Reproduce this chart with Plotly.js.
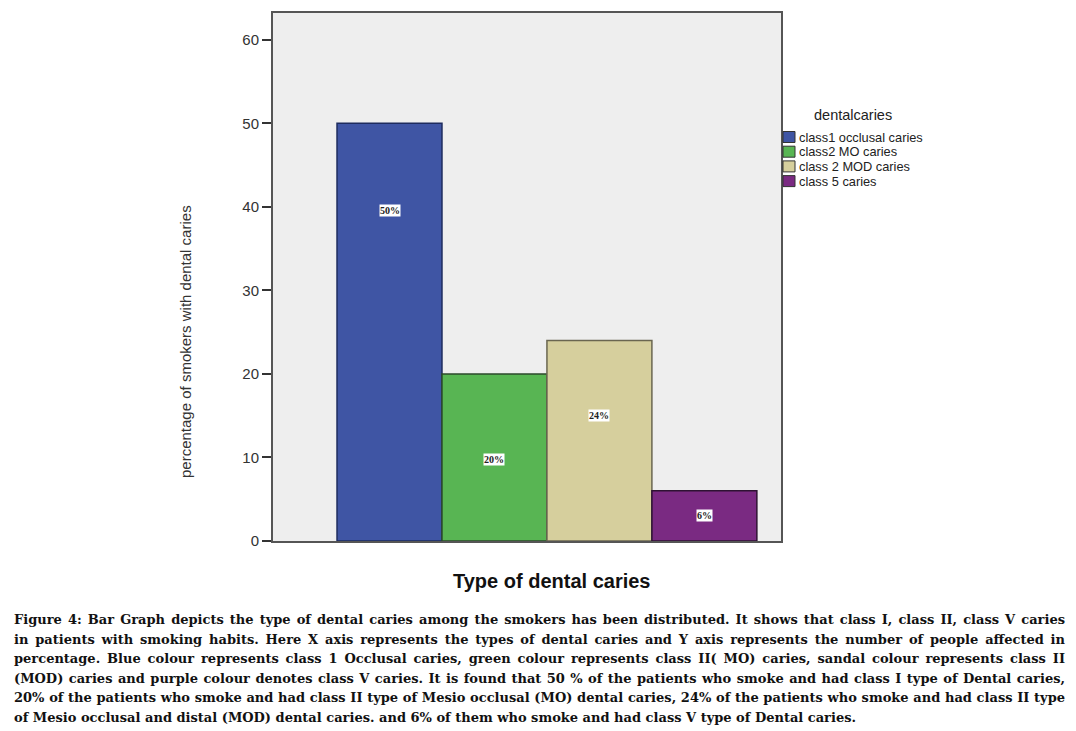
<!DOCTYPE html>
<html>
<head>
<meta charset="utf-8">
<script src="https://cdn.plot.ly/plotly-3.0.1.min.js"></script>
<style>
  html, body { margin: 0; padding: 0; background: #fff; }
  #wrap { position: relative; width: 1076px; height: 731px; overflow: hidden; }
  #chart { position: absolute; left: 0; top: 0; width: 1076px; height: 731px; }
  #caption { position: absolute; left: 14px; top: 610px; width: 1051px;
    font-family: "DejaVu Serif", "Liberation Serif", serif; font-weight: bold;
    font-size: 13px; line-height: 19.5px; color: #111; }
  #caption div { text-align: justify; text-align-last: justify; white-space: nowrap; }
  #caption div.last { text-align-last: left; }
  #measure { position: absolute; visibility: hidden; white-space: nowrap;
    font-family: "DejaVu Serif", "Liberation Serif", serif; font-weight: bold; font-size: 13px; }
</style>
</head>
<body>
<div id="wrap">
  <div id="chart"></div>
  <div id="caption"></div>
</div>
<span id="measure"></span>
<script>
// ---- data ----
const categories = ["class1 occlusal caries", "class2 MO caries", "class 2 MOD caries", "class 5 caries"];
const percentages = [50, 20, 24, 6];
const barLabels = ["50%", "20%", "24%", "6%"];
const labelHeights = [39.6, 9.8, 15.0, 3.1];
const yTicks = [0, 10, 20, 30, 40, 50, 60];
const legendTitle = "dentalcaries";
const xTitle = "Type of dental caries";
const yTitle = "percentage of smokers with dental caries";
const captionLines = [
  "Figure 4: Bar Graph depicts the type of dental caries among the smokers has been distributed. It shows that class I, class II, class V caries",
  "in patients with smoking habits. Here X axis represents the types of dental caries and Y axis represents the number of people affected in",
  "percentage. Blue colour represents class 1 Occlusal caries, green colour represents class II( MO) caries, sandal colour represents class II",
  "(MOD)  caries and purple colour denotes class V caries. It is found that 50 % of the patients who smoke and had class I type of Dental caries,",
  "20% of the patients who smoke and had class II type of Mesio occlusal (MO) dental caries, 24% of the patients who smoke and had class II type",
  "of Mesio occlusal and distal (MOD) dental caries. and 6% of them who smoke and had class V type of Dental caries."
];

// ---- styles ----
const fills = ["#3f55a4", "#58b553", "#d6cf9d", "#7a2a82"];
const edges = ["#1d2b5e", "#2b4a2b", "#6a6650", "#2e1233"];
const sans = "Liberation Sans, Arial, sans-serif";

const traces = categories.map((c, i) => ({
  type: "bar",
  x: [c],
  y: [percentages[i]],
  width: 1,
  name: c,
  marker: { color: fills[i], line: { color: edges[i], width: 1.5 } },
  hoverinfo: "x+y",
  showlegend: false
}));

const annotations = categories.map((c, i) => ({
  x: c, y: labelHeights[i], xref: "x", yref: "y",
  text: barLabels[i], showarrow: false,
  font: { family: "Liberation Serif, serif", size: 10, color: "#222", weight: "bold" },
  bgcolor: "#ffffff", borderpad: 0
}));

const W = 1076, H = 731, L = 273, R = 781, T = 13, B = 541;
const px2paperX = x => (x - L) / (R - L);
const px2paperY = y => (B - y) / (B - T);

// axis titles placed as annotations
annotations.push({
  xref: "paper", yref: "paper", x: px2paperX(551), y: px2paperY(581),
  text: xTitle, showarrow: false, xanchor: "center", yanchor: "middle",
  font: { family: sans, size: 20, color: "#111", weight: "bold" }
});
annotations.push({
  xref: "paper", yref: "paper", x: px2paperX(185), y: px2paperY(342),
  text: yTitle, showarrow: false, xanchor: "center", yanchor: "middle", textangle: -90,
  font: { family: sans, size: 15, color: "#333" }
});

// custom legend (built from categories / fills)
const shapes = [];
const legX0 = 783, legY0 = 137, legStep = 14.7;
annotations.push({
  xref: "paper", yref: "paper", x: px2paperX(853), y: px2paperY(115),
  text: legendTitle, showarrow: false, xanchor: "center", yanchor: "middle",
  font: { family: sans, size: 14.5, color: "#222" }
});
categories.forEach((c, i) => {
  const cy = legY0 + i * legStep;
  shapes.push({
    type: "rect", xref: "paper", yref: "paper",
    x0: px2paperX(legX0), x1: px2paperX(legX0 + 12),
    y0: px2paperY(cy - 5.5), y1: px2paperY(cy + 5.5),
    fillcolor: fills[i], line: { color: "#333", width: 1 }
  });
  annotations.push({
    xref: "paper", yref: "paper", x: px2paperX(legX0 + 14), y: px2paperY(cy),
    text: c, showarrow: false, xanchor: "left", yanchor: "middle",
    font: { family: sans, size: 12.8, color: "#222" }
  });
});

const layout = {
  width: W, height: H,
  margin: { l: L, r: W - R, t: T, b: H - B, pad: 0 },
  paper_bgcolor: "rgba(0,0,0,0)",
  plot_bgcolor: "#eeeeee",
  barmode: "overlay",
  bargap: 0,
  showlegend: false,
  xaxis: {
    type: "category",
    categoryorder: "array", categoryarray: categories,
    range: [-1.11, 3.73],
    showticklabels: false, ticks: "",
    showgrid: false, zeroline: false,
    showline: true, mirror: true, linecolor: "#555", linewidth: 2
  },
  yaxis: {
    range: [0, 63.2],
    tickvals: yTicks, ticktext: yTicks.map(String),
    ticks: "outside", ticklen: 9, tickwidth: 2, tickcolor: "#333",
    tickfont: { family: sans, size: 15, color: "#333" },
    showgrid: false, zeroline: false,
    showline: true, mirror: true, linecolor: "#555", linewidth: 2
  },
  annotations: annotations,
  shapes: shapes
};

Plotly.newPlot("chart", traces, layout, { displayModeBar: false, staticPlot: true });

// caption: fit font so longest line fits, then justify each line
const cap = document.getElementById("caption");
const meas = document.getElementById("measure");
let maxW = 0;
captionLines.forEach(t => { meas.textContent = t; maxW = Math.max(maxW, meas.getBoundingClientRect().width); });
const avail = 1048;
if (maxW > avail) cap.style.fontSize = (13 * avail / maxW).toFixed(2) + "px";
captionLines.forEach((t, i) => {
  const d = document.createElement("div");
  d.textContent = t;
  if (i === captionLines.length - 1) d.className = "last";
  cap.appendChild(d);
});
</script>
</body>
</html>
